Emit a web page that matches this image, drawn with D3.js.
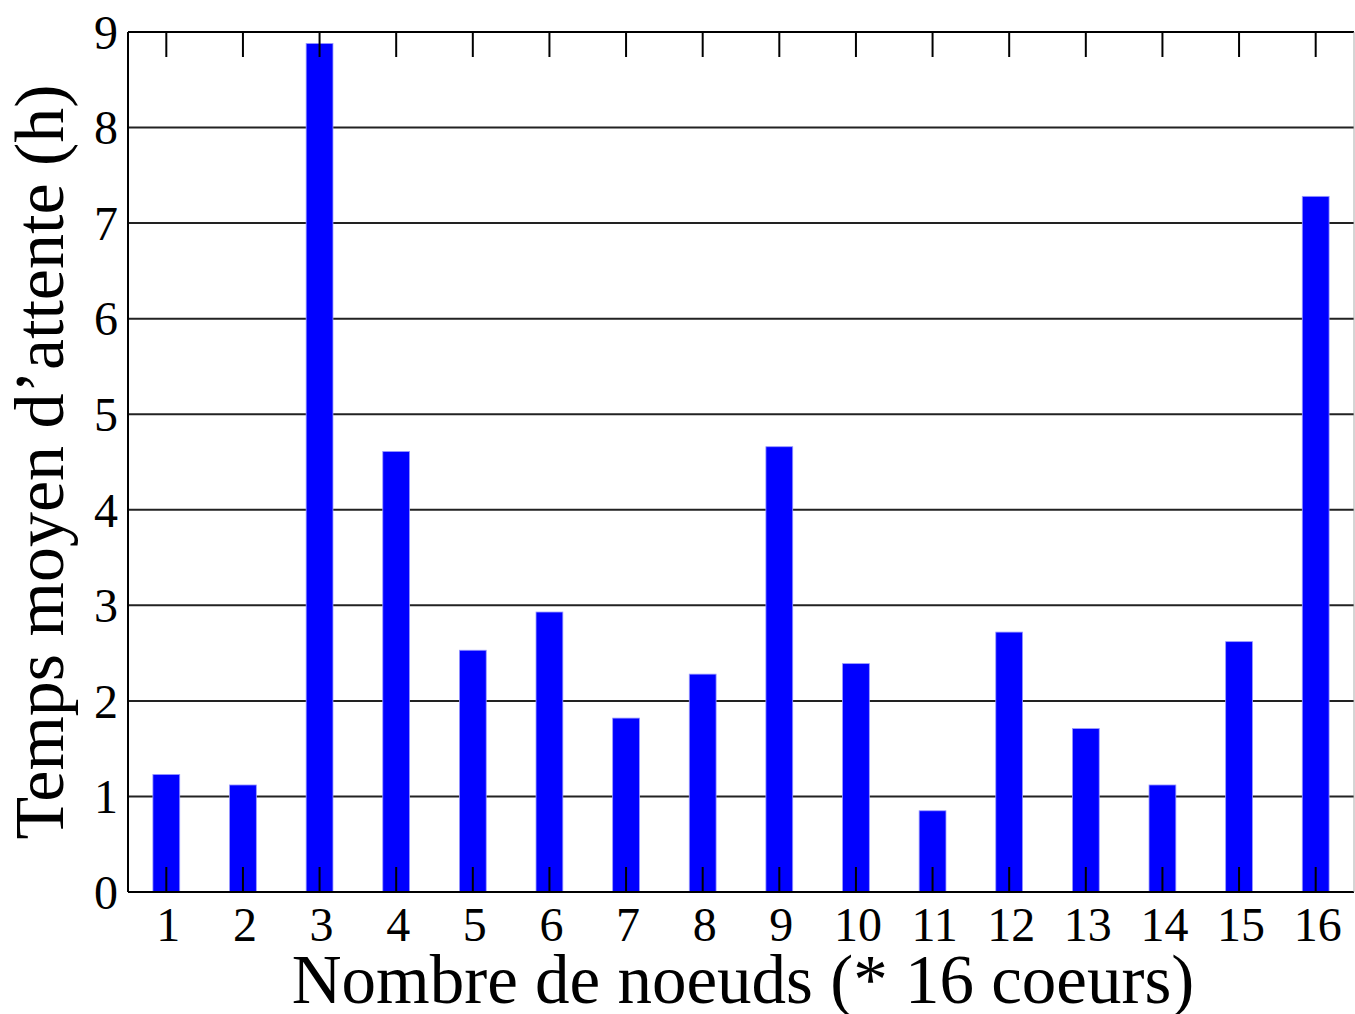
<!DOCTYPE html>
<html>
<head>
<meta charset="utf-8">
<script src="https://cdn.jsdelivr.net/npm/d3@7"></script>
<style>
  body { margin: 0; background: #fff; }
  text { font-family: "Liberation Serif", "Times New Roman", serif; fill: #000; }
</style>
</head>
<body>
<svg id="chart" width="1355" height="1014"></svg>
<script>
// number of nodes (x 16 cores) and mean waiting time in hours
const nodes = [1, 2, 3, 4, 5, 6, 7, 8, 9, 10, 11, 12, 13, 14, 15, 16];
const waitHours = [1.23, 1.12, 8.88, 4.61, 2.53, 2.93, 1.82, 2.28, 4.66, 2.39, 0.85, 2.72, 1.71, 1.12, 2.62, 7.28];
const yTicks = [0, 1, 2, 3, 4, 5, 6, 7, 8, 9];

const svg = d3.select('#chart');
const margin = { top: 32, right: 1, left: 128, bottom: 122 };
const width = 1355 - margin.left - margin.right;
const height = 1014 - margin.top - margin.bottom;

const g = svg.append('g')
  .attr('transform', `translate(${margin.left},${margin.top})`);

const x = d3.scaleLinear().domain([0.5, 16.5]).range([0, width]);
const y = d3.scaleLinear().domain([0, 9]).range([height, 0]);
const barW = x(1.35) - x(1);

// horizontal grid
g.selectAll('.grid')
  .data(yTicks.slice(1, -1))
  .enter().append('line')
  .attr('x1', 0).attr('x2', width)
  .attr('y1', d => y(d)).attr('y2', d => y(d))
  .attr('stroke', '#222').attr('stroke-width', 2);

// bars
g.selectAll('.bar')
  .data(nodes.map((n, i) => [n, waitHours[i]]))
  .enter().append('rect')
  .attr('x', d => x(d[0]) - barW / 2)
  .attr('y', d => y(d[1]))
  .attr('width', barW)
  .attr('height', d => height - y(d[1]))
  .attr('fill', '#0000ff')
  .attr('stroke', '#9999ff').attr('stroke-width', 0.8);

// ticks top and bottom, pointing inward
const tickLen = 25;
g.selectAll('.ttop')
  .data(nodes).enter().append('line')
  .attr('x1', d => x(d)).attr('x2', d => x(d))
  .attr('y1', 0).attr('y2', tickLen)
  .attr('stroke', '#000').attr('stroke-width', 2);
g.selectAll('.tbot')
  .data(nodes).enter().append('line')
  .attr('x1', d => x(d)).attr('x2', d => x(d))
  .attr('y1', height).attr('y2', height - tickLen)
  .attr('stroke', '#000').attr('stroke-width', 2);

// frame
g.append('line').attr('x1', 0).attr('x2', width).attr('y1', 0).attr('y2', 0)
  .attr('stroke', '#000').attr('stroke-width', 2);
g.append('line').attr('x1', 0).attr('x2', width).attr('y1', height).attr('y2', height)
  .attr('stroke', '#000').attr('stroke-width', 2);
g.append('line').attr('x1', 0).attr('x2', 0).attr('y1', 0).attr('y2', height)
  .attr('stroke', '#000').attr('stroke-width', 2);
g.append('line').attr('x1', width).attr('x2', width).attr('y1', 0).attr('y2', height)
  .attr('stroke', '#aaa').attr('stroke-width', 1);

// tick labels
g.selectAll('.xl')
  .data(nodes).enter().append('text')
  .attr('x', d => x(d) + 2)
  .attr('y', height + 49)
  .attr('text-anchor', 'middle')
  .attr('font-size', 48)
  .text(d => d);

g.selectAll('.yl')
  .data(yTicks).enter().append('text')
  .attr('x', -10)
  .attr('y', d => y(d))
  .attr('dy', '0.35em')
  .attr('text-anchor', 'end')
  .attr('font-size', 48)
  .text(d => d);

// axis titles
svg.append('text')
  .attr('x', margin.left + width / 2 + 2)
  .attr('y', 1003)
  .attr('text-anchor', 'middle')
  .attr('font-size', 69)
  .text('Nombre de noeuds (* 16 coeurs)');

svg.append('text')
  .attr('transform', `translate(63,${margin.top + height / 2}) rotate(-90)`)
  .attr('text-anchor', 'middle')
  .attr('font-size', 70)
  .text('Temps moyen d\u2019attente (h)');
</script>
</body>
</html>
